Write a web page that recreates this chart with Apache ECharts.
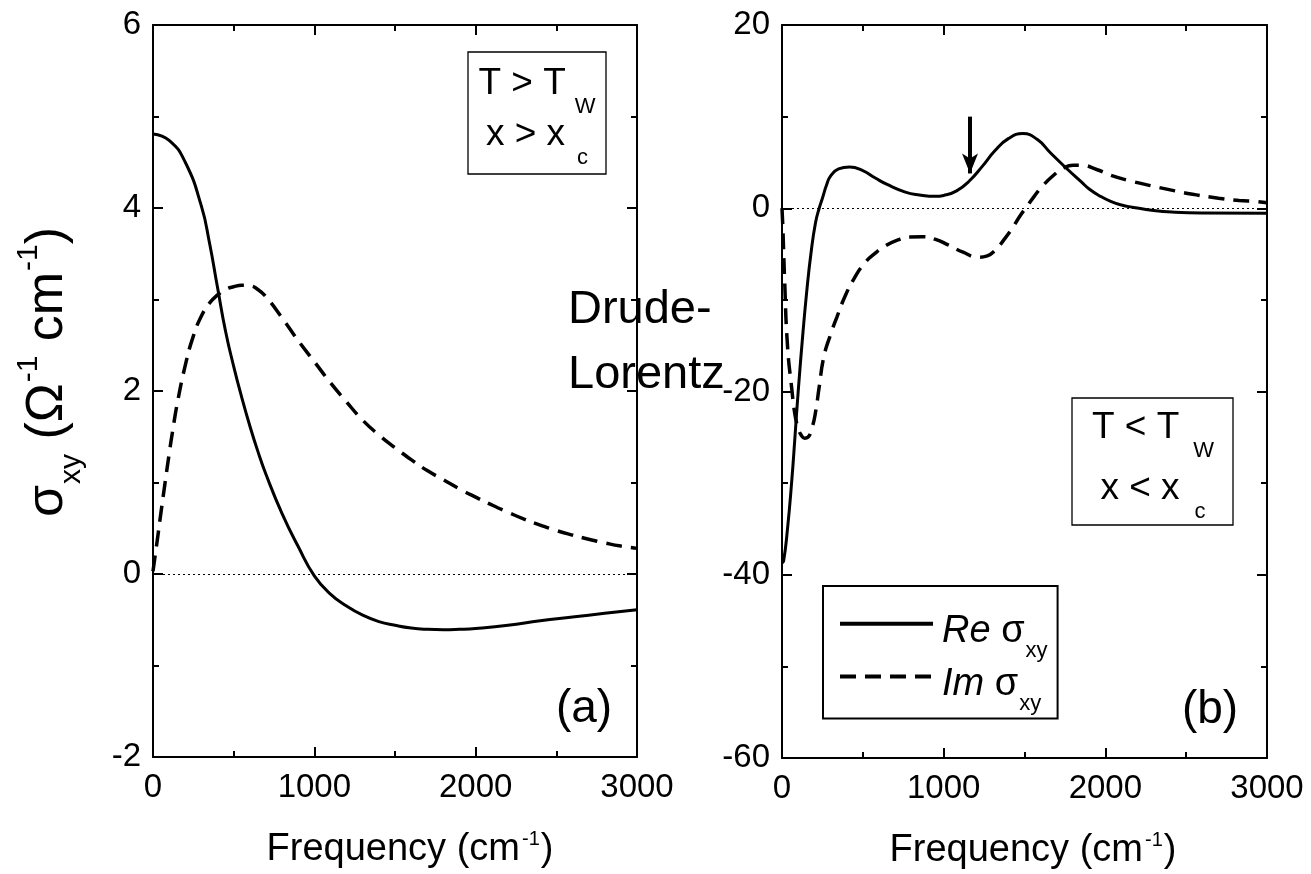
<!DOCTYPE html>
<html><head><meta charset="utf-8">
<script src="https://cdn.jsdelivr.net/npm/echarts@6/dist/echarts.min.js"></script>
<style>html,body{margin:0;padding:0;background:#fff}#c{width:1311px;height:874px}</style>
</head><body><div id="c"></div>
<script>
const FONT = 'Liberation Sans, Arial, Helvetica, sans-serif';

// ---- axis ranges / ticks ----
const xTicks = [0, 1000, 2000, 3000];
const yTicksA = [-2, 0, 2, 4, 6];
const yTicksB = [-60, -40, -20, 0, 20];

// ---- panel (a): Drude-Lorentz, T > Tw ----
const freqReA = [0,100,200,300,350,400,450,500,550,600,650,700,800,900,1000,1100,1200,1300,1400,1500,1600,1700,1800,1900,2000,2200,2400,2600,2800,3000];
const reA     = [4.81,4.74,4.50,4.02,3.62,3.13,2.65,2.27,1.93,1.62,1.34,1.09,0.66,0.30,-0.02,-0.22,-0.35,-0.45,-0.52,-0.56,-0.59,-0.605,-0.61,-0.605,-0.595,-0.56,-0.51,-0.47,-0.43,-0.39];
const freqImA = [0,25,50,75,100,125,150,200,250,300,350,400,450,500,550,600,650,700,800,900,1000,1100,1200,1300,1400,1500,1600,1700,1800,1900,2000,2100,2200,2300,2400,2500,2600,2700,2800,2900,3000];
const imA     = [0.03,0.35,0.68,1.0,1.31,1.6,1.86,2.28,2.6,2.82,2.96,3.05,3.11,3.14,3.155,3.15,3.11,3.03,2.80,2.55,2.32,2.09,1.88,1.68,1.52,1.38,1.25,1.13,1.03,0.93,0.84,0.755,0.675,0.60,0.535,0.475,0.425,0.38,0.34,0.305,0.28];

// ---- panel (b): T < Tw ----
const freqReB = [0,10,34,61,80,101,130,154,180,207,230,250,275,300,350,418,500,577,650,763,850,950,1000,1080,1160,1240,1318,1400,1490,1580,1663,1769,1850,1900,1970,2033,2100,2166,2298,2430,2600,3000];
const reB     = [-38.7,-38.5,-35,-29.6,-25,-19.8,-13.5,-8.9,-4.8,-1.6,0,1.1,2.5,3.5,4.3,4.5,4.1,3.3,2.6,1.76,1.45,1.3,1.4,1.9,3.0,4.6,6.3,7.6,8.15,7.5,6.0,4.2,2.9,2.1,1.3,0.75,0.35,0.12,-0.24,-0.43,-0.52,-0.55];
const freqImB = [0,5,16,34,61,80,100,120,140,160,185,207,230,259,300,339,390,445,510,577,640,710,790,868,950,1027,1120,1213,1270,1318,1370,1424,1470,1517,1560,1610,1680,1742,1800,1848,1950,2033,2150,2298,2430,2563,2700,2828,2933,3000];
const imB     = [0,-2,-7.7,-15,-19.8,-22.5,-24,-24.8,-25.1,-25.0,-24.0,-22.3,-19.5,-16.2,-13.8,-11.9,-9.6,-7.7,-6.0,-4.9,-4.1,-3.5,-3.15,-3.1,-3.4,-4,-4.8,-5.35,-5.2,-4.6,-3.5,-2.2,-0.9,0.24,1.3,2.4,3.6,4.4,4.7,4.7,4.2,3.6,3.0,2.4,1.9,1.46,1.1,0.85,0.73,0.6];

// arrow annotation (data units, panel b)
const arrowX = 1163, arrowTop = 10, arrowEnd = 3.8;

const zip = (xs, ys) => xs.map((x, i) => [x, ys[i]]);

const nameRich = {
  m: {fontSize: 38, fontFamily: FONT, color: '#000', lineHeight: 40, verticalAlign: 'top', padding: [2, 0, 0, 0]},
  sp: {fontSize: 20, fontFamily: FONT, color: '#000', lineHeight: 20, verticalAlign: 'top', padding: [0, 1, 0, 2]}
};

function bx(g, shift) {
  return {
    gridIndex: g, type: 'value', position: 'bottom',
    min: xTicks[0], max: xTicks[xTicks.length - 1], interval: xTicks[1] - xTicks[0],
    axisLine: {onZero: false, lineStyle: {color: '#000', width: 2}},
    axisTick: {inside: true, length: 10, lineStyle: {color: '#000', width: 2}},
    minorTick: {show: true, splitNumber: 2, length: 6, lineStyle: {color: '#000', width: 2}},
    splitLine: {show: false}, minorSplitLine: {show: false},
    axisLabel: {color: '#000', fontSize: 33, fontFamily: FONT, margin: 14, formatter: v => String(v)},
    name: '{m|Frequency (cm}{sp|-1}{m|)}', nameLocation: 'middle', nameGap: 72,
    nameTextStyle: {rich: nameRich, padding: [0, 0, 0, shift]}
  };
}
function tx(g) {
  return {
    gridIndex: g, type: 'value', position: 'top',
    min: xTicks[0], max: xTicks[xTicks.length - 1], interval: xTicks[1] - xTicks[0],
    axisLine: {onZero: false, lineStyle: {color: '#000', width: 2}},
    axisTick: {inside: true, length: 10, lineStyle: {color: '#000', width: 2}},
    minorTick: {show: true, splitNumber: 2, length: 6, lineStyle: {color: '#000', width: 2}},
    splitLine: {show: false}, axisLabel: {show: false}
  };
}
function yax(g, ticks, pos) {
  return {
    gridIndex: g, type: 'value', position: pos,
    min: ticks[0], max: ticks[ticks.length - 1], interval: ticks[1] - ticks[0],
    axisLine: {show: true, onZero: false, lineStyle: {color: '#000', width: 2}},
    axisTick: {show: true, inside: true, length: 10, lineStyle: {color: '#000', width: 2}},
    minorTick: {show: true, splitNumber: 2, length: 6, lineStyle: {color: '#000', width: 2}},
    splitLine: {show: false}, minorSplitLine: {show: false},
    axisLabel: pos === 'left' ? {color: '#000', fontSize: 33, fontFamily: FONT, margin: 12, formatter: v => String(v)} : {show: false}
  };
}

const zeroLine = {silent: true, symbol: ['none', 'none'], label: {show: false},
  lineStyle: {color: '#000', type: [2, 3], width: 1}, data: [{yAxis: 0}], animation: false};

const solid = {color: '#000', width: 3};
const dashed = {color: '#000', width: 3.5, type: [16, 9]};

function boxText(x, y, main, sub, subPadLeft) {
  return {
    type: 'text', x: x, y: y, z: 10,
    style: {
      text: '{m|' + main + '}{s|' + sub + '}', align: 'center', verticalAlign: 'top', fill: '#000',
      rich: {
        m: {fontSize: 37, fontFamily: FONT, fill: '#000', lineHeight: 41, verticalAlign: 'top'},
        s: {fontSize: 22, fontFamily: FONT, fill: '#000', lineHeight: 22, verticalAlign: 'top', padding: [31, 0, 0, subPadLeft]}
      }
    }
  };
}

const option = {
  animation: false,
  backgroundColor: '#fff',
  grid: [
    {left: 153, top: 25, width: 484, height: 732, outerBoundsMode: 'none'},
    {left: 782, top: 25, width: 485, height: 733, outerBoundsMode: 'none'}
  ],
  xAxis: [bx(0, 30), tx(0), bx(1, 17), tx(1)],
  yAxis: [yax(0, yTicksA, 'left'), yax(0, yTicksA, 'right'), yax(1, yTicksB, 'left'), yax(1, yTicksB, 'right')],
  legend: {
    data: ['Re', 'Im'], orient: 'vertical', left: 823, top: 586,
    padding: [17, 10, 4, 15], itemGap: -6, itemWidth: 93, itemHeight: 52,
    borderColor: '#000', borderWidth: 2, backgroundColor: '#fff', selectedMode: false,
    lineStyle: {width: 4},
    itemStyle: {opacity: 0, borderWidth: 0},
    formatter: n => '{it|' + n + '}{g| σ}{sb|xy}',
    textStyle: {
      color: '#000', fontFamily: FONT,
      rich: {
        it: {fontSize: 38, fontStyle: 'italic', fontFamily: FONT, color: '#000', lineHeight: 36, verticalAlign: 'top', padding: [7, 0, 0, 4]},
        g: {fontSize: 38, fontFamily: FONT, color: '#000', lineHeight: 36, verticalAlign: 'top', padding: [7, 0, 0, 0]},
        sb: {fontSize: 22, fontFamily: FONT, color: '#000', lineHeight: 18, verticalAlign: 'top', padding: [34, 0, 0, 1]}
      }
    }
  },
  graphic: [
    {type: 'rect', z: 9, shape: {x: 468, y: 52, width: 138, height: 122}, style: {fill: '#fff', stroke: '#000', lineWidth: 1.3}},
    boxText(537, 65, 'T > T', 'W', 9),
    boxText(537, 116, 'x > x', 'c', 12),
    {type: 'rect', z: 9, shape: {x: 1072, y: 398, width: 161, height: 127}, style: {fill: '#fff', stroke: '#000', lineWidth: 1.3}},
    boxText(1153, 409, 'T < T', 'W', 14),
    boxText(1153, 470, 'x < x', 'c', 15),
    {type: 'text', z: 10, x: 584, y: 709, style: {text: '(a)', fontSize: 46, fontFamily: FONT, fill: '#000', align: 'center', verticalAlign: 'middle'}},
    {type: 'text', z: 10, x: 1210, y: 710, style: {text: '(b)', fontSize: 46, fontFamily: FONT, fill: '#000', align: 'center', verticalAlign: 'middle'}},
    {type: 'text', z: 10, x: 568, y: 343, style: {text: 'Drude-\nLorentz', fontSize: 47, fontFamily: FONT, fill: '#000', align: 'left', verticalAlign: 'middle', lineHeight: 65}},
    {type: 'text', z: 10, x: 13.5, y: 372, rotation: Math.PI / 2,
      style: {
        text: '{m|σ}{sb|xy}{m| (Ω}{sp|-1}{m| cm}{sp|-1}{m|)}', align: 'center', verticalAlign: 'top', fill: '#000',
        rich: {
          m: {fontSize: 52, fontFamily: FONT, fill: '#000', lineHeight: 56, verticalAlign: 'top', padding: [8.5, 0, 0, 0]},
          sb: {fontSize: 30, fontFamily: FONT, fill: '#000', lineHeight: 30, verticalAlign: 'top', padding: [43.5, 0, 0, 1]},
          sp: {fontSize: 30, fontFamily: FONT, fill: '#000', lineHeight: 30, verticalAlign: 'top', padding: [0, 0, 0, 1]}
        }
      }
    }
  ],
  series: [
    {type: 'line', name: 'Re', xAxisIndex: 0, yAxisIndex: 0, data: zip(freqReA, reA), symbol: 'none', smooth: 0.5,
      lineStyle: solid, itemStyle: {color: '#000'}, emphasis: {disabled: true}, markLine: zeroLine},
    {type: 'line', name: 'Im', xAxisIndex: 0, yAxisIndex: 0, data: zip(freqImA, imA), symbol: 'none', smooth: 0.5,
      lineStyle: dashed, itemStyle: {color: '#000'}, emphasis: {disabled: true}},
    {type: 'line', name: 'Re', xAxisIndex: 2, yAxisIndex: 2, data: zip(freqReB, reB), symbol: 'none', smooth: 0.5,
      lineStyle: solid, itemStyle: {color: '#000'}, emphasis: {disabled: true},
      markLine: {
        silent: true, symbol: ['none', 'none'], label: {show: false}, animation: false,
        lineStyle: {color: '#000', type: [2, 3], width: 1},
        data: [
          {yAxis: 0},
          [{coord: [arrowX, arrowTop], symbol: 'none', lineStyle: {type: 'solid', width: 4, color: '#000'}},
           {coord: [arrowX, arrowEnd], symbol: 'arrow', symbolSize: [12, 20], lineStyle: {type: 'solid', width: 4, color: '#000'}}]
        ]
      }},
    {type: 'line', name: 'Im', xAxisIndex: 2, yAxisIndex: 2, data: zip(freqImB, imB), symbol: 'none', smooth: 0.5,
      lineStyle: dashed, itemStyle: {color: '#000'}, emphasis: {disabled: true}}
  ]
};

const chart = echarts.init(document.getElementById('c'), null, {renderer: 'canvas'});
chart.setOption(option);
</script>
</body></html>
